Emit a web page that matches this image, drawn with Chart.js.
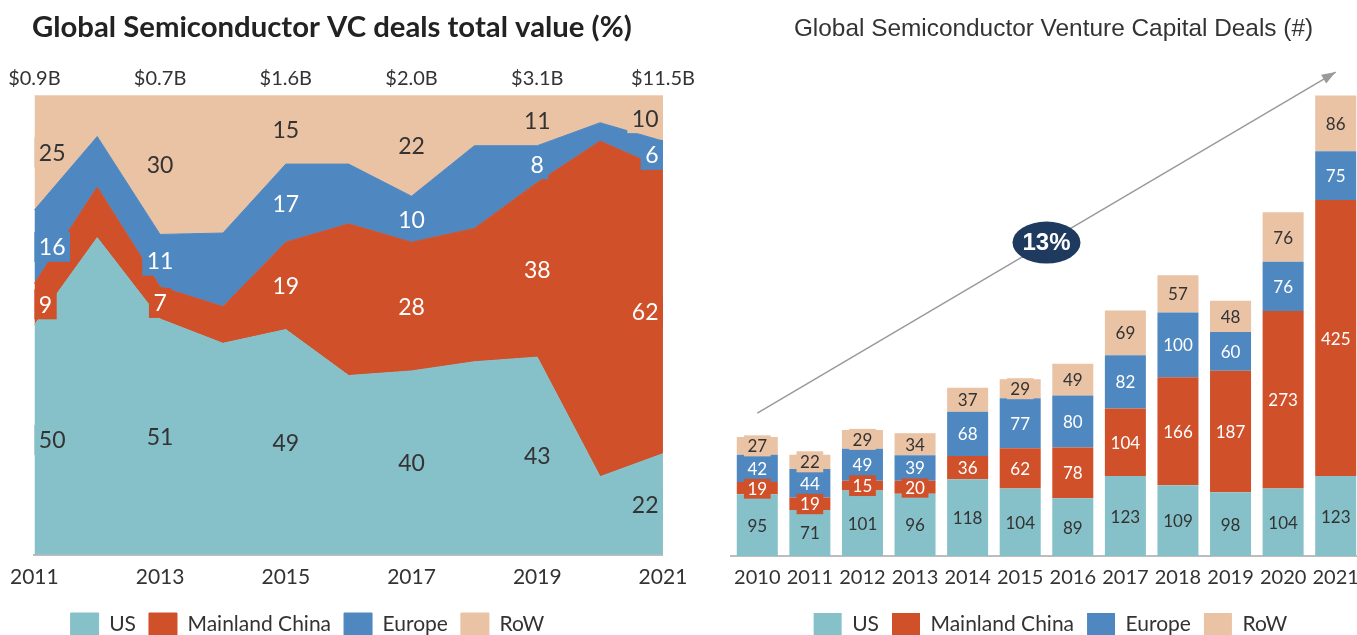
<!DOCTYPE html>
<html>
<head>
<meta charset="utf-8">
<title>Global Semiconductor VC deals</title>
<script src="https://cdn.jsdelivr.net/npm/chart.js@4.4.1/dist/chart.umd.min.js"></script>
<style>
    html, body { margin: 0; padding: 0; background: #fff; overflow: hidden; width: 1357px; height: 635px; }
    #left { position: absolute; left: 0; top: 0; width: 700px; height: 645px; }
    #right { position: absolute; left: 700px; top: 0; width: 700px; height: 645px; }
</style>
</head>
<body>
<div id="left"><canvas id="shareChart"></canvas></div>
<div id="right"><canvas id="dealsChart"></canvas></div>
<script>
// left chart: share of deal value (%)
var shareYears = ['2011', '2012', '2013', '2014', '2015', '2016', '2017', '2018', '2019', '2020', '2021'];
var dealValue = ['$0.9B', '$0.7B', '$1.6B', '$2.0B', '$3.1B', '$11.5B']; // odd years only
var usShare = [50, 69, 51.3, 46, 49, 39, 40, 42, 43, 17, 22];
var chinaShare = [9, 11, 7.0, 8, 19, 33, 28, 29, 38, 73, 62];
var europeShare = [16, 11, 11.4, 16, 17, 13, 10, 18, 8, 4, 6];
var rowShare = [25, 9, 30.3, 30, 15, 15, 22, 11, 11, 6, 10];

// right chart: number of deals
var dealYears = ['2010', '2011', '2012', '2013', '2014', '2015', '2016', '2017', '2018', '2019', '2020', '2021'];
var usDeals = [95, 71, 101, 96, 118, 104, 89, 123, 109, 98, 104, 123];
var chinaDeals = [19, 19, 15, 20, 36, 62, 78, 104, 166, 187, 273, 425];
var europeDeals = [42, 44, 49, 39, 68, 77, 80, 82, 100, 60, 76, 75];
var rowDeals = [27, 22, 29, 34, 37, 29, 49, 69, 57, 48, 76, 86];
var trendDeals = [220, null, null, null, null, null, null, null, null, null, null, 745];
var trendLabel = '13%';

var seriesNames = ['US', 'Mainland China', 'Europe', 'RoW'];
var colors = ['#86c0c8', '#d0502a', '#4f88c0', '#eac2a4'];
var textColors = ['#333', '#fff', '#fff', '#333'];

Chart.defaults.font.family = 'Lato, sans-serif';
Chart.defaults.color = '#333';

// value labels with a box in the series colour, only on odd years
var areaLabels = {
    id: 'areaLabels',
    afterDatasetsDraw: function (chart) {
        var ctx = chart.ctx;
        var zero = chart.scales.y.getPixelForValue(0);
        ctx.save();
        ctx.font = '23px Lato';
        ctx.textAlign = 'center';
        ctx.textBaseline = 'middle';
        chart.data.datasets.forEach(function (ds, d) {
            var pts = chart.getDatasetMeta(d).data;
            pts.forEach(function (pt, i) {
                if (i % 2) return;
                var base = d === 0 ? zero : chart.getDatasetMeta(d - 1).data[i].y;
                var text = String(Math.round(ds.data[i]));
                var w = ctx.measureText(text).width + 9;
                var h = 30;
                var x = pt.x;
                if (i === 0) x += w / 2;
                if (i === pts.length - 1) x -= w / 2;
                var y = (pt.y + base) / 2;
                ctx.fillStyle = colors[d];
                ctx.fillRect(x - w / 2, y - h / 2, w, h);
                ctx.fillStyle = textColors[d];
                ctx.fillText(text, x, y + 1);
            });
        });
        ctx.restore();
    }
};

// nudge legend / title to where the original puts them
function shiftBoxes(legendDx, titleDx) {
    return {
        id: 'shiftBoxes',
        afterLayout: function (chart) {
            chart.legend.left += legendDx;
            chart.legend.right += legendDx;
            chart.titleBlock.left += titleDx;
            chart.titleBlock.right += titleDx;
        }
    };
}

var barLabels = {
    id: 'barLabels',
    afterDatasetsDraw: function (chart) {
        var ctx = chart.ctx;
        ctx.save();
        ctx.font = '17px Lato';
        ctx.textAlign = 'center';
        ctx.textBaseline = 'middle';
        for (var d = 0; d < 4; d++) {
            var ds = chart.data.datasets[d];
            chart.getDatasetMeta(d).data.forEach(function (bar, i) {
                var text = String(ds.data[i]);
                var w = ctx.measureText(text).width + 7;
                var h = 21;
                var y = (bar.y + bar.base) / 2;
                ctx.fillStyle = colors[d];
                ctx.fillRect(bar.x - w / 2, y - h / 2, w, h);
                ctx.fillStyle = textColors[d];
                ctx.fillText(text, bar.x, y + 1);
            });
        }
        ctx.restore();
    }
};

var trendMarks = {
    id: 'trendMarks',
    afterDatasetsDraw: function (chart) {
        var ctx = chart.ctx;
        var pts = chart.getDatasetMeta(4).data.filter(function (p, i) { return trendDeals[i] !== null; });
        var a = pts[0], b = pts[pts.length - 1];
        var ang = Math.atan2(b.y - a.y, b.x - a.x);
        ctx.save();
        ctx.fillStyle = '#9a9a9a';
        ctx.beginPath();
        ctx.moveTo(b.x, b.y);
        ctx.lineTo(b.x - 14 * Math.cos(ang) + 5 * Math.sin(ang), b.y - 14 * Math.sin(ang) - 5 * Math.cos(ang));
        ctx.lineTo(b.x - 14 * Math.cos(ang) - 5 * Math.sin(ang), b.y - 14 * Math.sin(ang) + 5 * Math.cos(ang));
        ctx.closePath();
        ctx.fill();
        var mx = (a.x + b.x) / 2, my = (a.y + b.y) / 2;
        ctx.fillStyle = '#1f3a5f';
        ctx.beginPath();
        ctx.ellipse(mx, my, 34, 21, 0, 0, Math.PI * 2);
        ctx.fill();
        ctx.fillStyle = '#fff';
        ctx.font = 'bold 24px "Liberation Sans", Arial';
        ctx.textAlign = 'center';
        ctx.textBaseline = 'middle';
        ctx.fillText(trendLabel, mx, my + 1);
        ctx.restore();
    }
};

var legendLabels = { boxWidth: 28, boxHeight: 22, padding: 13, color: '#333', font: { family: 'Lato', size: 21 } };

document.addEventListener('DOMContentLoaded', function () {
    var shares = [usShare, chinaShare, europeShare, rowShare];
    new Chart(document.getElementById('shareChart'), {
        type: 'line',
        data: {
            labels: shareYears,
            datasets: seriesNames.map(function (name, k) {
                return {
                    label: name,
                    data: shares[k],
                    backgroundColor: colors[k],
                    borderColor: colors[k],
                    borderWidth: 1,
                    fill: k === 0 ? 'origin' : '-1',
                    pointRadius: 0,
                    tension: 0
                };
            })
        },
        options: {
            responsive: true,
            maintainAspectRatio: false,
            animation: false,
            layout: { padding: { left: 34, right: 35, top: 0, bottom: 0 } },
            plugins: {
                title: {
                    display: true,
                    text: 'Global Semiconductor VC deals total value (%)',
                    align: 'start',
                    color: '#222',
                    font: { family: 'Lato', size: 29.3, weight: 'bold' },
                    padding: { top: 10, bottom: 16 }
                },
                legend: { position: 'bottom', labels: legendLabels },
                tooltip: { enabled: false }
            },
            scales: {
                x: {
                    grid: { drawOnChartArea: false, drawTicks: false },
                    border: { color: '#bdbdbd', width: 2 },
                    ticks: {
                        padding: 10, maxRotation: 0, autoSkip: false, color: '#333',
                        font: { family: 'Lato', size: 21 },
                        callback: function (v, i) { return i % 2 ? '' : shareYears[i]; }
                    }
                },
                x2: {
                    type: 'category',
                    position: 'top',
                    grid: { display: false, drawTicks: false },
                    border: { display: false },
                    ticks: {
                        padding: 5, maxRotation: 0, autoSkip: false, color: '#333',
                        font: { family: 'Lato', size: 20 },
                        callback: function (v, i) { return i % 2 ? '' : dealValue[i / 2]; }
                    }
                },
                y: { display: false, stacked: true, min: 0, max: 100 }
            }
        },
        plugins: [areaLabels, shiftBoxes(-42, -2)]
    });

    var deals = [usDeals, chinaDeals, europeDeals, rowDeals];
    var barSets = seriesNames.map(function (name, k) {
        return {
            label: name,
            data: deals[k],
            backgroundColor: colors[k],
            borderColor: colors[k],
            borderWidth: 0,
            stack: 'deals',
            categoryPercentage: 1,
            barPercentage: 0.78
        };
    });
    barSets.push({
        type: 'line',
        label: 'trend',
        data: trendDeals,
        stack: 'trend',
        spanGaps: true,
        borderColor: '#9a9a9a',
        borderWidth: 1.5,
        pointRadius: 0,
        fill: false,
        clip: false
    });

    new Chart(document.getElementById('dealsChart'), {
        type: 'bar',
        data: { labels: dealYears, datasets: barSets },
        options: {
            responsive: true,
            maintainAspectRatio: false,
            animation: false,
            layout: { padding: { left: 31, right: 38, top: 0, bottom: 0 } },
            plugins: {
                title: {
                    display: true,
                    text: 'Global Semiconductor Venture Capital Deals (#)',
                    color: '#333',
                    font: { family: '"Liberation Sans", Arial', size: 24.4, weight: 'normal' },
                    padding: { top: 15, bottom: 18 }
                },
                legend: {
                    position: 'bottom',
                    labels: Object.assign({}, legendLabels, {
                        filter: function (item) { return item.datasetIndex < 4; }
                    })
                },
                tooltip: { enabled: false }
            },
            scales: {
                x: {
                    stacked: true,
                    grid: { drawOnChartArea: false, drawTicks: false },
                    border: { color: '#bdbdbd', width: 2 },
                    ticks: { padding: 10, maxRotation: 0, autoSkip: false, color: '#333', font: { family: 'Lato', size: 20 } }
                },
                y: { display: false, stacked: true, min: 0, max: 760 }
            }
        },
        plugins: [barLabels, trendMarks, shiftBoxes(4, 7)]
    });
});
</script>
</body>
</html>
